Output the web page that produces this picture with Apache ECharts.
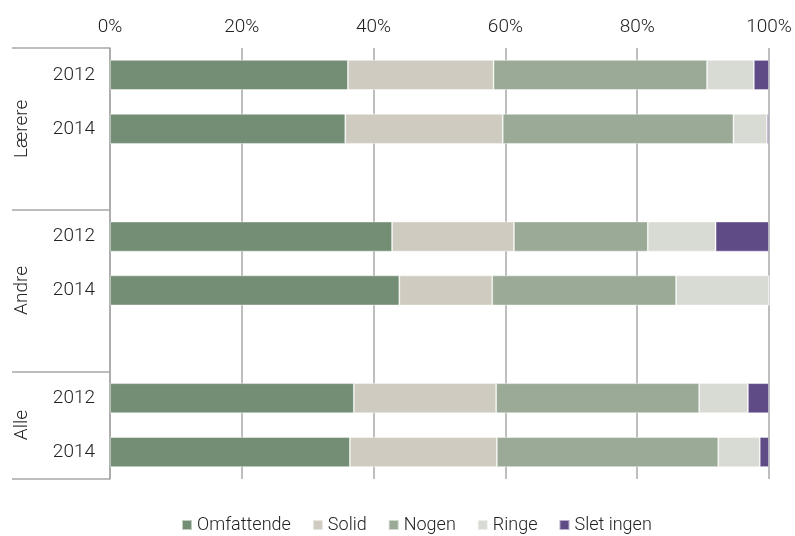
<!DOCTYPE html>
<html>
<head>
<meta charset="utf-8">
<script src="https://cdn.jsdelivr.net/npm/echarts@6/dist/echarts.min.js"></script>
<style>html,body{margin:0;padding:0;background:#fff}#c{width:795px;height:536px}</style>
</head>
<body>
<div id="c"></div>
<script>
// Row keys (group|year); blank rows separate the groups
const rows = ['Lærere|2012','Lærere|2014','gap1','Andre|2012','Andre|2014','gap2','Alle|2012','Alle|2014'];
const groupNames = ['Lærere','Andre','Alle'];
const groupBounds = [0, 3, 6, 8];      // row boundaries of the groups
const groupCenters = [1.5, 4.5, 7];    // label positions of the groups
const seriesNames = ['Omfattende','Solid','Nogen','Ringe','Slet ingen'];
const omfattende = [36.1, 35.7, null, 42.8, 43.9, null, 37.0, 36.4];
const solid      = [22.1, 23.9, null, 18.5, 14.1, null, 21.6, 22.3];
const nogen      = [32.4, 35.0, null, 20.3, 27.9, null, 30.8, 33.6];
const ringe      = [ 7.1,  5.1, null, 10.3, 14.1, null,  7.4,  6.3];
const sletIngen  = [ 2.3,  0.3, null,  8.1,  0.0, null,  3.2,  1.4];
const xTicks = [0, 20, 40, 60, 80, 100];

const colors = ['#738e74','#cfcbc0','#9aaa96','#d8dad4','#5f4b86'];
const values = [omfattende, solid, nogen, ringe, sletIngen];
const font = 'Roboto';
const textColor = '#222';
const gridColor = '#a8a8a8';
const fs = 19;

const chart = echarts.init(document.getElementById('c'), null, {renderer:'canvas'});
chart.setOption({
  animation: false,
  color: colors,
  textStyle: {fontFamily: font},
  grid: {left: 110, right: 26, top: 48, bottom: 57},
  legend: {
    bottom: -3, left: 176,
    itemWidth: 10, itemHeight: 10, itemGap: 21,
    icon: 'rect',
    textStyle: {fontFamily: font, fontSize: 18, color: textColor, fontWeight: 300},
    data: seriesNames
  },
  xAxis: {
    type: 'value', position: 'top', min: 0, max: 100, interval: 20,
    axisLine: {show: false}, axisTick: {show: false},
    axisLabel: {formatter: '{value}%', fontSize: fs, color: textColor, fontFamily: font, fontWeight: 300, margin: 11},
    splitLine: {lineStyle: {color: gridColor, width: 1.5}}
  },
  yAxis: [{
    type: 'category', inverse: true, data: rows,
    axisLine: {show: true, lineStyle: {color: gridColor, width: 1.5}},
    axisTick: {show: false},
    axisLabel: {
      formatter: v => v.indexOf('|') >= 0 ? v.split('|')[1] : '',
      fontSize: fs, color: textColor, fontFamily: font, fontWeight: 300, margin: 15
    }
  }, {
    type: 'value', inverse: true, min: 0, max: rows.length, position: 'left',
    axisLine: {show: false},
    splitLine: {show: false},
    axisTick: {show: true, inside: false, length: 98, customValues: groupBounds,
      lineStyle: {color: gridColor, width: 1.5}},
    axisLabel: {
      customValues: groupCenters, rotate: 90, margin: 78,
      formatter: v => { const i = groupCenters.indexOf(v); return i >= 0 ? groupNames[i] : ''; },
      fontSize: fs, color: textColor, fontFamily: font, fontWeight: 300
    }
  }],
  series: seriesNames.map((n, i) => ({
    name: n, type: 'bar', stack: 'total', yAxisIndex: 0,
    barWidth: 30,
    itemStyle: {color: colors[i], borderColor: 'rgba(255,255,255,0.55)', borderWidth: 0.8},
    data: values[i]
  }))
});
</script>
</body>
</html>
